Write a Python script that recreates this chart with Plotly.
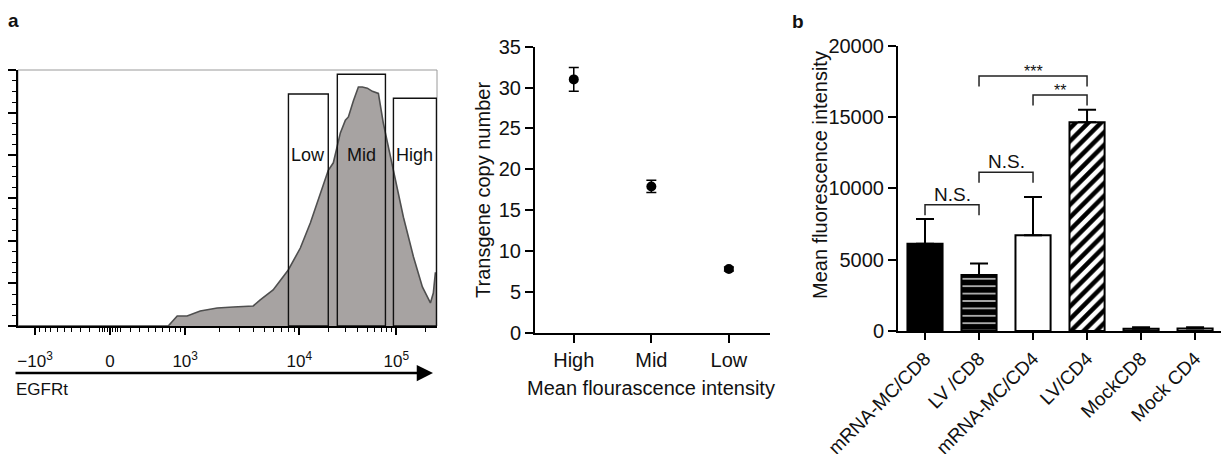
import numpy as np
import plotly.graph_objects as go

# ---------------- data ----------------
# panel a (left): EGFRt fluorescence histogram
egfrt_intensity = [-1400, 683, 840, 1040, 1355, 1910, 2640, 3950, 4550, 5900, 8010,
                   10260, 13000, 15710, 19900, 22440, 26490, 29850, 32060, 36060, 40640,
                   44670, 50230, 56620, 60810, 65310, 73460, 86900, 102600, 118300,
                   149900, 185400, 224200, 240300, 252000, 262000]
egfrt_count = [0, 0, 9.4, 9.4, 14.1, 16.9, 17.8, 18.8, 24.4, 33.8, 52.5,
               73.1, 96.6, 118, 146, 153, 181, 193, 196, 211, 224,
               224, 223, 220, 219, 218, 190, 158, 128, 102,
               65, 36.6, 21.6, 30.9, 49.7, 49.7]

gate_names = ["Low", "Mid", "High"]
gate_lo = [8040, 24660, 93300]
gate_hi = [19900, 77200, 258800]
gate_top = [217.5, 236.0, 213.5]

x_major_vals = [-1000, 0, 1000, 10000, 100000]
x_major_text = ["\u221210<sup>3</sup>", "0", "10<sup>3</sup>", "10<sup>4</sup>", "10<sup>5</sup>"]

# panel a (right): transgene copy number per sorted gate
sort_gate = ["High", "Mid", "Low"]
copy_number = [31.0, 17.9, 7.8]
copy_err = [1.45, 0.75, 0.25]

# panel b: mean fluorescence intensity
groups = ["mRNA-MC/CD8", "LV /CD8", "mRNA-MC/CD4", "LV/CD4", "MockCD8", "Mock CD4"]
mfi = [6120, 3920, 6710, 14630, 150, 180]
mfi_err = [1730, 820, 2680, 880, 110, 90]

cmp_left = [0, 1, 1, 2]
cmp_right = [1, 2, 3, 3]
cmp_y = [8850, 11120, 17870, 16540]
cmp_label = ["N.S.", "N.S.", "***", "**"]

# bar styles (fill, pattern shape, pattern colour, pattern size, solidity)
bar_fill = ["black", "black", "white", "white", "#9c9c9c", "white"]
bar_shape = ["", "-", "", "/", "", ""]
bar_fg = ["black", "#d6d6d6", "black", "black", "black", "black"]
bar_psize = [8, 7.4, 8, 9, 8, 8]
bar_solid = [0.3, 0.2, 0.3, 0.5, 0.3, 0.3]

# ---------------- helpers ----------------
FONT = "Liberation Sans, Arial, sans-serif"
W, H = 1221, 454


def fx(p):
    return p / W


def fy(p):
    return 1 - p / H


def T(v):
    """biexponential-like display transform of the flow cytometry axis"""
    v = np.atleast_1d(np.asarray(v, float))
    out = np.empty_like(v)
    lin = np.abs(v) <= 1000
    out[lin] = 0.773 * np.arcsinh(v[lin] / 500) / np.arcsinh(2)
    mid = (v > 1000) & (v <= 1e4)
    out[mid] = 0.773 + 1.175 * np.log10(v[mid] / 1000)
    hi = v > 1e4
    out[hi] = 1.948 + np.log10(v[hi] / 1e4)
    neg = v < -1000
    out[neg] = -0.773 - 1.175 * np.log10(-v[neg] / 1000)
    return out


minor_vals = ([-v for v in range(100, 1000, 100)] + [-75, -50, -25, 25, 50, 75]
              + list(range(100, 1000, 100)) + list(range(2000, 10000, 1000))
              + list(range(20000, 100000, 10000)) + [200000])

fig = go.Figure()

# histogram
fig.add_trace(go.Scatter(
    x=T(egfrt_intensity), y=egfrt_count, mode="lines", fill="tozeroy",
    fillcolor="#a7a3a2", line=dict(color="#4f4f4f", width=1.6),
    xaxis="x", yaxis="y", hoverinfo="skip"))

shapes = []
annotations = []
for name, lo, hi, top in zip(gate_names, gate_lo, gate_hi, gate_top):
    x0, x1 = T(lo)[0], T(hi)[0]
    shapes.append(dict(type="rect", xref="x", yref="y", x0=x0, x1=x1, y0=0, y1=top,
                       line=dict(color="#111", width=1.4), fillcolor="rgba(0,0,0,0)",
                       layer="above"))
    annotations.append(dict(x=(x0 + x1) / 2, y=160, xref="x", yref="y", text=name,
                            showarrow=False, xanchor="center", yanchor="middle",
                            font=dict(size=18, color="#111", family=FONT)))

# light frame around histogram
shapes.append(dict(type="rect", xref="x domain", yref="y domain", x0=0, x1=1, y0=0, y1=1,
                   line=dict(color="#9a9a9a", width=1), layer="below"))

# scatter with error bars
fig.add_trace(go.Scatter(
    x=[0, 1, 2], y=copy_number, mode="markers",
    marker=dict(color="black", size=10),
    error_y=dict(type="data", array=copy_err, color="black", thickness=1.5, width=5),
    xaxis="x2", yaxis="y2", hoverinfo="skip"))

# bars (one trace per bar so each gets its own fill pattern)
for i, g in enumerate(groups):
    fig.add_trace(go.Bar(
        x=[i], y=[mfi[i]], width=0.65, name=g,
        marker=dict(
            color=bar_fill[i],
            line=dict(color="black", width=2),
            pattern=dict(shape=bar_shape[i], fgcolor=bar_fg[i], bgcolor=bar_fill[i],
                         size=bar_psize[i], solidity=bar_solid[i], fillmode="replace")),
        error_y=dict(type="data", symmetric=False, array=[mfi_err[i]], arrayminus=[0],
                     color="black", thickness=2, width=9),
        xaxis="x3", yaxis="y3", hoverinfo="skip"))

# significance brackets
drop = 730
for l, r, yv, lab in zip(cmp_left, cmp_right, cmp_y, cmp_label):
    fig.add_trace(go.Scatter(x=[l, l, r, r], y=[yv - drop, yv, yv, yv - drop], mode="lines",
                             line=dict(color="#222", width=1.5), xaxis="x3", yaxis="y3",
                             hoverinfo="skip"))
    is_star = lab.startswith("*")
    annotations.append(dict(x=(l + r) / 2, y=yv, xref="x3", yref="y3", text=lab,
                            showarrow=False, xanchor="center", yanchor="bottom",
                            yshift=-6 if is_star else -2,
                            font=dict(size=16 if is_star else 19, color="#111", family=FONT)))


# titles / labels
def label(px, py, text, size, angle=0, xanchor="center"):
    return dict(x=fx(px), y=fy(py), xref="paper", yref="paper", text=text, showarrow=False,
                xanchor=xanchor, yanchor="middle", textangle=angle,
                font=dict(size=size, color="#111", family=FONT))


annotations += [
    label(13, 20, "<b>a</b>", 19),
    label(798, 21, "<b>b</b>", 19),
    label(14, 389, "EGFRt", 17, xanchor="left"),
    label(483, 190, "Transgene copy number", 20, angle=-90),
    label(651, 388, "Mean flourascence intensity", 20),
    label(820, 175, "Mean fluorescence intensity", 20, angle=-90),
    dict(x=fx(433), y=fy(373), xref="paper", yref="paper", text="", showarrow=True,
         ax=-419, ay=0, arrowhead=2, arrowsize=1.3, arrowwidth=2.5, arrowcolor="black"),
]

axis_font = dict(size=20, color="#111", family=FONT)

fig.update_layout(
    width=W, height=H, margin=dict(l=0, r=0, t=0, b=0, autoexpand=False),
    paper_bgcolor="white", plot_bgcolor="white", showlegend=False, barmode="overlay",
    font=dict(family=FONT, color="#111"),
    shapes=shapes, annotations=annotations,
    xaxis=dict(domain=[fx(18), fx(437)], range=[T(-1410)[0], T(262144)[0]],
               tickmode="array", tickvals=T(x_major_vals), ticktext=x_major_text,
               ticks="outside", ticklen=7, tickwidth=2, tickcolor="black",
               minor=dict(tickmode="array", tickvals=T(minor_vals).tolist(), ticks="outside",
                          ticklen=4, tickwidth=1.2, tickcolor="black"),
               showline=True, linecolor="black", linewidth=1.5, showgrid=False, zeroline=False,
               ticklabelstandoff=12, tickfont=dict(size=17, color="#111", family=FONT),
               anchor="y", automargin=False),
    yaxis=dict(domain=[fy(326), fy(70)], range=[0, 240], dtick=40, tick0=0,
               showticklabels=False, ticks="outside", ticklen=8, tickwidth=2, tickcolor="black",
               minor=dict(dtick=10, ticks="outside", ticklen=4, tickwidth=1.2, tickcolor="black"),
               showline=True, linecolor="black", linewidth=1.5, showgrid=False, zeroline=False,
               anchor="x", automargin=False),
    xaxis2=dict(domain=[fx(535), fx(770)], range=[-0.5, 2.53], tickmode="array",
                tickvals=[0, 1, 2], ticktext=sort_gate, ticks="outside", ticklen=8, tickwidth=2,
                tickcolor="black", showline=True, linecolor="black", linewidth=2,
                showgrid=False, zeroline=False, tickfont=axis_font, anchor="y2",
                automargin=False),
    yaxis2=dict(domain=[fy(332.7), fy(46.7)], range=[0, 35], dtick=5, tick0=0,
                ticks="outside", ticklen=8, tickwidth=2, tickcolor="black",
                showline=True, linecolor="black", linewidth=2, showgrid=False, zeroline=False,
                tickfont=axis_font, anchor="x2", automargin=False),
    xaxis3=dict(domain=[fx(898), fx(1221)], range=[-0.5, 5.48], tickmode="array",
                tickvals=list(range(len(groups))), ticktext=groups, tickangle=-45,
                ticks="outside", ticklen=7, tickwidth=2, tickcolor="black",
                showline=True, linecolor="black", linewidth=2, showgrid=False, zeroline=False,
                tickfont=dict(size=19, color="#111", family=FONT), anchor="y3",
                automargin=False),
    yaxis3=dict(domain=[fy(331), fy(45.7)], range=[0, 20000], dtick=5000, tick0=0,
                tickformat="d", ticks="outside", ticklen=8, tickwidth=2, tickcolor="black",
                showline=True, linecolor="black", linewidth=2, showgrid=False, zeroline=False,
                tickfont=dict(size=20, color="#111", family=FONT), anchor="x3",
                automargin=False),
)

fig.write_html("out.html", config={"displayModeBar": False},
               post_script="document.body.style.margin='0';document.body.style.overflow='hidden';")
